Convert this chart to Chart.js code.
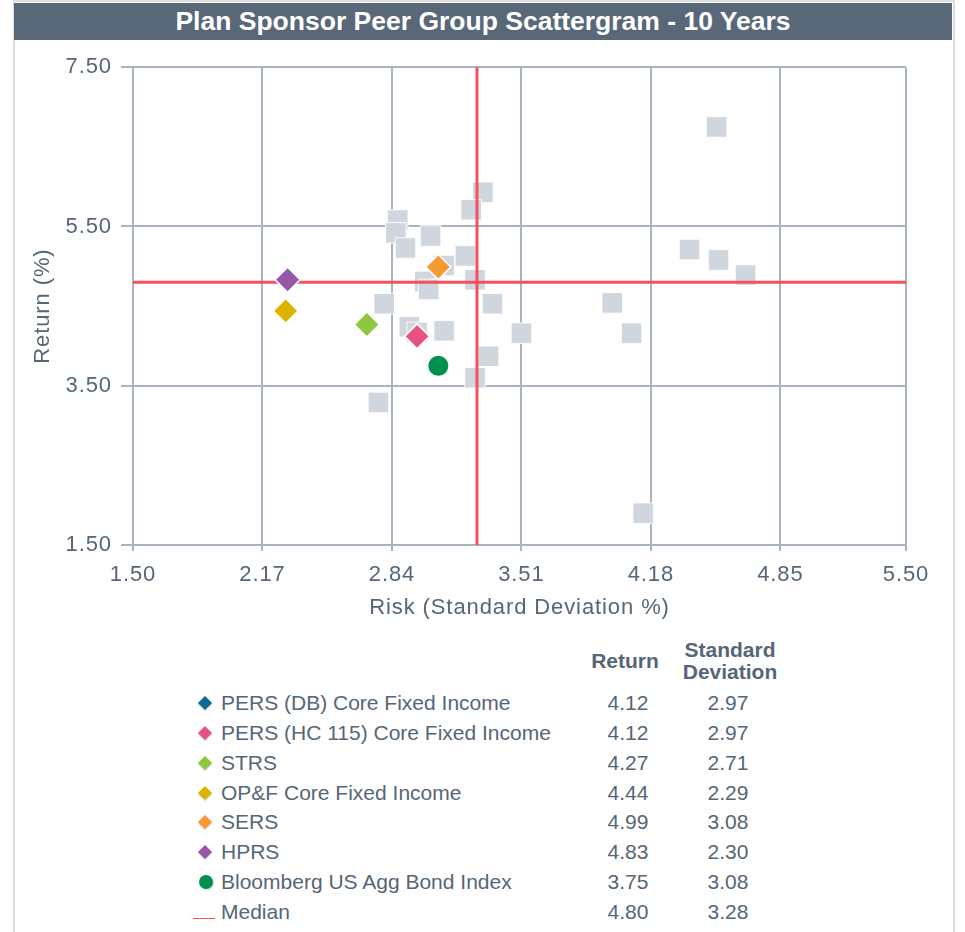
<!DOCTYPE html>
<html>
<head>
<meta charset="utf-8">
<script src="https://cdn.jsdelivr.net/npm/chart.js@4.4.1/dist/chart.umd.min.js"></script>
<style>
  body { margin: 0; background: #fff; font-family: 'Liberation Sans', Arial, sans-serif; }
  #panel { position: absolute; left: 13px; top: 0; width: 938px; height: 940px; border: 2px solid #dedede; border-bottom: none; }
  #title { position: absolute; left: 14px; top: 3px; width: 938px; height: 37px; background: #586879; color: #fff;
           font-weight: bold; font-size: 26.5px; line-height: 37px; text-align: center; }
  #scatter { position: absolute; left: 0; top: 45px; }
  .cell { position: absolute; color: #566676; font-size: 21px; white-space: nowrap; }
  .head { font-weight: bold; text-align: center; line-height: 22px; }
  .num { text-align: center; width: 80px; }
  .mark { position: absolute; width: 10px; height: 10px; transform: rotate(45deg); box-shadow: 1px 1px 0 #d8dde3; }
</style>
</head>
<body>
<div id="panel"></div>
<div id="title">Plan Sponsor Peer Group Scattergram - 10 Years</div>
<canvas id="scatter" width="965" height="590"></canvas>
<div id="legend"></div>
<script>
// peer group universe (grey squares)
const peerRisk   = [3.31, 3.25, 2.87, 2.86, 2.91, 3.04, 3.22, 3.11, 3.01, 3.03, 3.27, 2.80, 3.36, 2.93,
                    2.97, 3.11, 3.51, 3.34, 3.27, 2.77, 4.52, 4.38, 4.53, 4.67, 3.98, 4.08, 4.14]
const peerReturn = [5.93, 5.71, 5.58, 5.42, 5.23, 5.38, 5.13, 5.01, 4.81, 4.71, 4.83, 4.53, 4.53, 4.24,
                    4.17, 4.19, 4.16, 3.87, 3.60, 3.29, 6.75, 5.21, 5.08, 4.89, 4.54, 4.16, 1.90]

// highlighted funds + index + median
const names   = ['PERS (DB) Core Fixed Income', 'PERS (HC 115) Core Fixed Income', 'STRS', 'OP&F Core Fixed Income',
                 'SERS', 'HPRS', 'Bloomberg US Agg Bond Index', 'Median']
const returns = [4.12, 4.12, 4.27, 4.44, 4.99, 4.83, 3.75, 4.80]
const stdDevs = [2.97, 2.97, 2.71, 2.29, 3.08, 2.30, 3.08, 3.28]
const colors  = ['#0d6a92', '#e8527f', '#8dc63f', '#dcb400', '#f79a33', '#9856a6', '#009050', '#f4505e']

const xTicks = [1.50, 2.17, 2.84, 3.51, 4.18, 4.85, 5.50]
const yTicks = [1.50, 3.50, 5.50, 7.50]

const axisText = '#566676'
const gridColor = '#a9b4c0'

// the source spreads its axis text a little
const spacing_plugin = {
    id: 'spacing',
    beforeLayout(chart) { chart.ctx.letterSpacing = '0.9px' },
    beforeDraw(chart) { chart.ctx.letterSpacing = '0.9px' }
}

function set_up_chart() {
    let datasets = []
    const medianIdx = names.length - 1

    // funds
    for (let i = 0; i < medianIdx; i++) {
        const isIndex = names[i].startsWith('Bloomberg')
        datasets.push({
            type: 'scatter',
            label: names[i],
            data: [{x: stdDevs[i], y: returns[i]}],
            pointStyle: isIndex ? 'circle' : 'rectRot',
            pointRadius: isIndex ? 10 : 12.5,
            backgroundColor: colors[i],
            borderColor: isIndex ? colors[i] : '#ffffff',
            borderWidth: isIndex ? 0 : 1.5,
            order: 1 + (medianIdx - i) * 0.01
        })
    }

    // median cross
    datasets.push({
        type: 'line',
        label: 'Median return',
        data: [{x: xTicks[0], y: returns[medianIdx]}, {x: xTicks[xTicks.length - 1], y: returns[medianIdx]}],
        borderColor: colors[medianIdx],
        borderWidth: 3,
        pointRadius: 0,
        order: 2
    })
    datasets.push({
        type: 'line',
        label: 'Median risk',
        data: [{x: stdDevs[medianIdx], y: yTicks[0]}, {x: stdDevs[medianIdx], y: yTicks[yTicks.length - 1]}],
        borderColor: colors[medianIdx],
        borderWidth: 3,
        pointRadius: 0,
        order: 2
    })

    // peers
    datasets.push({
        type: 'scatter',
        label: 'Peers',
        data: peerRisk.map((r, i) => ({x: r, y: peerReturn[i]})),
        pointStyle: 'rect',
        pointRadius: 14.5,
        backgroundColor: '#d0d6de',
        borderColor: 'rgba(255,255,255,0.85)',
        borderWidth: 1,
        order: 3
    })

    const config = {
        type: 'scatter',
        data: {datasets: datasets},
        plugins: [spacing_plugin],
        options: {
            responsive: false,
            animation: false,
            devicePixelRatio: 1,
            layout: {padding: {left: 0, right: 59, top: 20, bottom: 0}},
            plugins: {legend: {display: false}, tooltip: {enabled: false}},
            scales: {
                x: {
                    type: 'linear',
                    min: xTicks[0],
                    max: xTicks[xTicks.length - 1],
                    afterBuildTicks: (scale) => { scale.ticks = xTicks.map(v => ({value: v})) },
                    afterFit: (scale) => { scale.height = 90 },
                    grid: {color: gridColor, lineWidth: 2, tickLength: 6},
                    border: {color: gridColor, width: 2},
                    ticks: {
                        color: axisText, padding: 11, maxRotation: 0,
                        font: {size: 22},
                        callback: (v) => Number(v).toFixed(2)
                    },
                    title: {
                        display: true, text: 'Risk (Standard Deviation %)', color: axisText,
                        font: {size: 22}, padding: {top: 0, bottom: 14}
                    }
                },
                y: {
                    type: 'linear',
                    min: yTicks[0],
                    max: yTicks[yTicks.length - 1],
                    afterBuildTicks: (scale) => { scale.ticks = yTicks.map(v => ({value: v})) },
                    afterFit: (scale) => { scale.width = 133 },
                    grid: {color: gridColor, lineWidth: 2, tickLength: 12},
                    border: {color: gridColor, width: 2},
                    ticks: {
                        color: axisText, padding: 9,
                        font: {size: 22},
                        callback: (v) => Number(v).toFixed(2)
                    },
                    title: {
                        display: true, text: 'Return (%)', color: axisText,
                        font: {size: 22}, padding: {top: 30, bottom: 0}
                    }
                }
            }
        }
    }

    Chart.defaults.font.family = "'Liberation Sans', Arial, sans-serif"
    new Chart(document.querySelector('#scatter'), config)
}

// table under the chart
function set_up_legend() {
    let legend = document.querySelector('#legend')
    let html = ''
    html += '<div class="cell head" style="left:585px;top:650px;width:80px">Return</div>'
    html += '<div class="cell head" style="left:670px;top:639px;width:120px">Standard<br>Deviation</div>'
    for (let i = 0; i < names.length; i++) {
        const cy = 703 + i * 29.85
        if (i === names.length - 1) {
            html += `<div style="position:absolute;left:193px;top:${cy + 6}px;width:22px;height:1px;background:${colors[i]}"></div>`
        } else if (names[i].startsWith('Bloomberg')) {
            html += `<div style="position:absolute;left:199px;top:${cy - 7}px;width:14px;height:14px;border-radius:50%;background:${colors[i]};box-shadow:1px 1px 0 #d8dde3"></div>`
        } else {
            html += `<div class="mark" style="left:200px;top:${cy - 5}px;background:${colors[i]}"></div>`
        }
        html += `<div class="cell" style="left:221px;top:${cy - 12}px;line-height:24px">${names[i].replace('&', '&amp;')}</div>`
        html += `<div class="cell num" style="left:588px;top:${cy - 12}px;line-height:24px">${returns[i].toFixed(2)}</div>`
        html += `<div class="cell num" style="left:688px;top:${cy - 12}px;line-height:24px">${stdDevs[i].toFixed(2)}</div>`
    }
    legend.innerHTML = html
}

set_up_chart()
set_up_legend()
</script>
</body>
</html>
